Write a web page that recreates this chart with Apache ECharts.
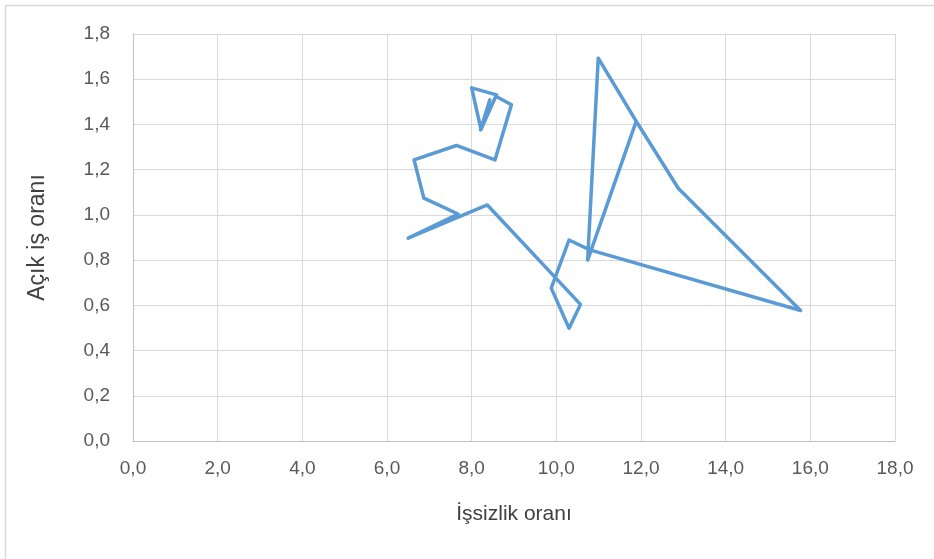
<!DOCTYPE html>
<html>
<head>
<meta charset="utf-8">
<script src="https://cdn.jsdelivr.net/npm/echarts@6/dist/echarts.min.js"></script>
<style>html,body{margin:0;padding:0;background:#fff}#c{width:934px;height:559px}</style>
</head>
<body>
<div id="c"></div>
<script>
// Unemployment rate (x) and job vacancy rate (y), in path order
const issizlik = [8.43, 8.21, 8.59, 8.00, 8.22, 8.57, 8.94, 8.55, 7.64, 6.64, 6.87, 7.68, 6.50, 8.37, 10.57, 10.30, 9.88, 10.30, 10.79, 15.77, 12.88, 11.89, 10.99, 10.74, 11.88];
const acikIs   = [1.509, 1.376, 1.531, 1.562, 1.378, 1.525, 1.487, 1.243, 1.307, 1.243, 1.074, 1.004, 0.897, 1.044, 0.604, 0.499, 0.676, 0.889, 0.845, 0.577, 1.118, 1.413, 1.693, 0.800, 1.410];
const xTitle = 'İşsizlik oranı';
const yTitle = 'Açık iş oranı';

const data = issizlik.map((x, i) => [x, acikIs[i]]);
const chart = echarts.init(document.getElementById('c'));
const font = 'Liberation Sans, Arial, sans-serif';
chart.setOption({
  animation: false,
  backgroundColor: '#fff',
  graphic: [{
    type: 'rect', silent: true,
    shape: {x: 5.5, y: 5.5, width: 1000, height: 1000},
    style: {fill: 'none', stroke: '#d9d9d9', lineWidth: 1.5}
  }],
  grid: {left: 133, right: 39, top: 34, bottom: 118},
  xAxis: {
    type: 'value', min: 0, max: 18, interval: 2,
    name: xTitle, nameLocation: 'middle', nameGap: 63,
    nameTextStyle: {fontFamily: font, fontSize: 21, color: '#404040'},
    axisLine: {show: true, lineStyle: {color: '#bfbfbf', width: 1}},
    axisTick: {show: false},
    splitLine: {show: true, lineStyle: {color: '#d9d9d9', width: 1}},
    axisLabel: {fontFamily: font, fontSize: 19, color: '#595959', margin: 18,
      formatter: v => v.toFixed(1).replace('.', ',')}
  },
  yAxis: {
    type: 'value', min: 0, max: 1.8, interval: 0.2,
    name: yTitle, nameLocation: 'middle', nameGap: 84,
    nameTextStyle: {fontFamily: font, fontSize: 23, color: '#404040'},
    axisLine: {show: true, lineStyle: {color: '#bfbfbf', width: 1}},
    axisTick: {show: false},
    splitLine: {show: true, lineStyle: {color: '#d9d9d9', width: 1}},
    axisLabel: {fontFamily: font, fontSize: 19, color: '#595959', margin: 23,
      formatter: v => v.toFixed(1).replace('.', ',')}
  },
  series: [{
    type: 'line', data: data, showSymbol: false, symbol: 'none',
    lineStyle: {color: '#5B9BD5', width: 3.5, join: 'round', cap: 'round'}
  }]
});
</script>
</body>
</html>
